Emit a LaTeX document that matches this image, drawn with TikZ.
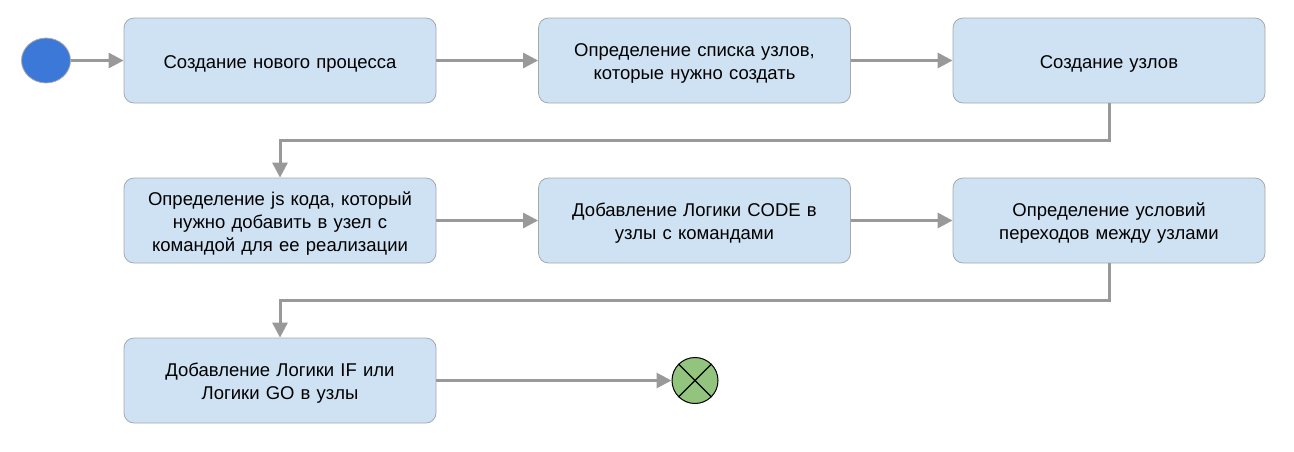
\documentclass[tikz,border=0pt]{standalone}
\usepackage{fontspec}
\setmainfont{Liberation Sans}
\usetikzlibrary{arrows.meta,positioning,shapes.geometric}
\definecolor{boxfill}{HTML}{CFE2F3}
\definecolor{boxline}{HTML}{A4A9AE}
\definecolor{flow}{HTML}{999999}
\definecolor{startblue}{HTML}{3C78D8}
\definecolor{endgreen}{HTML}{93C47D}
\tikzset{
  stepbox/.style={draw=boxline, line width=0.8pt, fill=boxfill, rounded corners=10pt,
    minimum width=312pt, minimum height=85pt, inner sep=0pt},
  steptext/.style={inner sep=0pt, align=center, text width=300pt,
    font=\fontsize{18.5}{23}\selectfont},
  flowline/.style={draw=flow, line width=3pt,
    -{Triangle[length=15pt,width=15pt]}},
}
\newcommand{\activity}[3]{%
  \node[stepbox] (#1) at #2 {};
  \node[steptext] (#1-label) at ([yshift=-3pt]#1.center) {#3};
}
\begin{document}
\begin{tikzpicture}[x=1pt,y=-1pt]
  \useasboundingbox (0,0) rectangle (1294,451);
  % start and end markers
  \node[draw=flow!80, line width=0.8pt, fill=startblue, ellipse, minimum width=49pt,
        minimum height=45pt, inner sep=0pt] (start) at (46,60.5) {};
  \node[draw=black, line width=1pt, fill=endgreen, circle, minimum size=46pt,
        inner sep=0pt] (finish) at (695,380.5) {};
  \draw[line width=1.2pt] (finish.north west) -- (finish.south east)
        (finish.north east) -- (finish.south west);
  % activity boxes
  \activity{s1}{(280,60.5)}{Создание нового процесса}
  \activity{s2}{(694.5,60.5)}{Определение списка узлов,\\которые нужно создать}
  \activity{s3}{(1109,60.5)}{Создание узлов}
  \activity{s4}{(280,220.5)}{Определение js кода, который\\нужно добавить в узел с\\командой для ее реализации}
  \activity{s5}{(694.5,220.5)}{Добавление Логики CODE в\\узлы с командами}
  \activity{s6}{(1109,220.5)}{Определение условий\\переходов между узлами}
  \activity{s7}{(280,380.5)}{Добавление Логики IF или\\Логики GO в узлы}
  % connectors
  \path[flowline] (start) -- (s1);
  \path[flowline] (s1) -- (s2);
  \path[flowline] (s2) -- (s3);
  \path[flowline] (s4) -- (s5);
  \path[flowline] (s5) -- (s6);
  \path[flowline] (s7) -- (finish);
  \path[flowline] (s3.south) -- ++(0,37) -| (s4.north);
  \path[flowline] (s6.south) -- ++(0,37) -| (s7.north);
\end{tikzpicture}
\end{document}
